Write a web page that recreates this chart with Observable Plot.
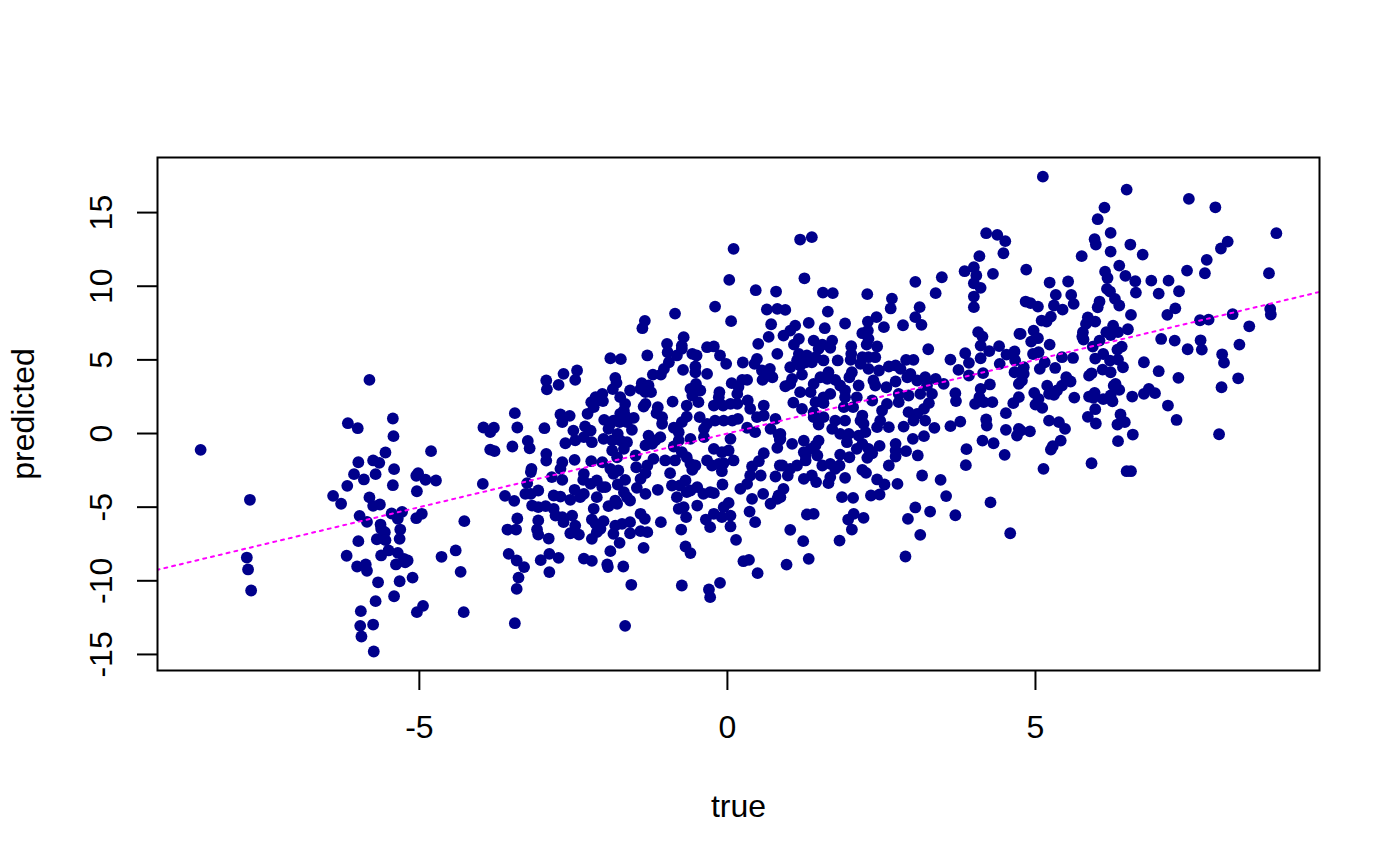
<!DOCTYPE html>
<html>
<head>
<meta charset="utf-8">
<script src="https://cdn.jsdelivr.net/npm/d3@7"></script>
<script src="https://cdn.jsdelivr.net/npm/@observablehq/plot@0.6"></script>
<style>
html,body{margin:0;padding:0;background:#fff}
svg{display:block}
</style>
</head>
<body>
<div id="chart"></div>
<script>
const xTicks = [-5, 0, 5];
const yTicks = [-15, -10, -5, 0, 5, 10, 15];
const xDomain = [-9.25, 9.61];
const yDomain = [-16.09, 18.74];
const identityLine = [[-20, -20], [20, 20]];

const farLeftPoints = [[-8.55,-1.11],[-7.75,-4.5],[-7.8,-8.42],[-7.78,-9.23],[-7.73,-10.66],[-5.81,3.64],[-6.16,.7],[-6,.36],[-5.43,1.02],[-5.42,-.18],[-5.55,-1.29],[-4.81,-1.2],[-5.99,-1.95],[-5.75,-1.83],[-5.65,-1.99],[-5.41,-2.42],[-6.06,-2.76],[-5.9,-3.12],[-5.71,-2.76],[-5.02,-2.69],[-5.05,-2.87],[-4.9,-3.14],[-4.73,-3.19],[-6.17,-3.55],[-5.43,-3.51],[-5.04,-3.92],[-6.4,-4.23],[-6.27,-4.77],[-5.81,-4.34],[-5.75,-4.91],[-5.64,-4.82],[-5.97,-5.59],[-5.85,-6],[-5.45,-5.43],[-5.28,-5.32],[-5.35,-5.79],[-4.96,-5.45],[-5.05,-5.75],[-4.27,-5.95],[-5.63,-6.18],[-5.62,-6.47],[-5.56,-6.7],[-5.31,-6.52],[-5.69,-7.18],[-5.55,-7.24],[-5.32,-7.15],[-5.99,-7.31],[-6.18,-8.3],[-5.62,-8.28],[-5.5,-7.94],[-5.35,-8.1],[-5.25,-8.51],[-5.19,-8.62],[-5.38,-8.89],[-5.23,-8.74],[-6.01,-9.03],[-5.87,-8.89],[-5.85,-9.32],[-4.64,-8.37],[-4.41,-7.94],[-4.33,-9.39],[-5.11,-9.78],[-5.32,-10.03],[-5.67,-10.1],[-5.41,-11.05],[-5.71,-11.38],[-4.94,-11.7],[-5.04,-12.13],[-5.95,-12.06],[-4.28,-12.13],[-5.96,-13.06],[-5.75,-12.97],[-5.94,-13.78],[-5.74,-14.8]];

const leftPoints = [[-3.96,.41],[-3.85,.09],[-3.79,.39],[-3.45,1.38],[-3.41,.41],[-2.97,.36],[-3.85,-1.09],[-3.78,-1.2],[-3.49,-.88],[-3.24,-.5],[-3.21,-1],[-2.94,3.6],[-2.93,3],[-2.94,-1.38],[-2.94,-1.84],[-3.18,-2.4],[-3.19,-2.62],[-3.97,-3.42],[-3.25,-3.37],[-3.61,-4.23],[-3.46,-4.57],[-3.28,-4.1],[-3.19,-4.1],[-3.07,-3.87],[-3.17,-4.89],[-3.07,-5],[-2.95,-4.93],[-3.41,-5.77],[-3.07,-5.9],[-3.57,-6.52],[-3.43,-6.52],[-3.09,-6.52],[-3.07,-6.86],[-2.9,-7.13],[-3.55,-8.17],[-3.42,-8.62],[-3.3,-9.07],[-3.39,-9.78],[-3.42,-10.55],[-3.45,-12.88],[-3.03,-8.6],[-2.89,-8.17],[-2.89,-9.41]];

const middleUpperPoints = [[.1,12.54],[.03,10.43],[.46,9.73],[.79,9.64],[.64,8.42],[.81,8.46],[-.2,8.62],[-.85,8.14],[-1.34,7.65],[-1.38,7.15],[.06,7.63],[.71,7.42],[.67,6.56],[-.71,6.54],[-.98,6.09],[-.74,5.97],[-.97,5.52],[-.82,5.3],[-.74,5.75],[-.33,5.86],[-.22,5.91],[.5,6.09],[-1.3,5.3],[-1.9,5.11],[-1.73,5.05],[-.57,5.41],[-.5,5.3],[-.12,5.3],[-.02,4.73],[.81,5.41],[.25,4.82],[.48,5.07],[.44,4.73],[-.95,4.84],[-1.03,4.39],[-1.21,4],[-1.08,4],[-.72,4.32],[-.52,4.55],[-.52,4.16],[-.33,4.05],[.56,4.28],[.69,4.39],[.57,3.64],[.73,3.82],[.65,4.05],[-2.66,4.05],[-2.44,4.28],[-2.47,3.64],[-2.74,3.3],[-1.82,3.78],[-1.8,3.44],[-1.86,3.01],[.07,3.42],[.24,3.64],[.32,3.64],[.18,3.15],[.16,2.69],[-.51,3.37],[-.44,2.92],[-.6,3.03],[-.57,2.58],[-.13,2.81],[-1.58,2.92],[-1.39,3.42],[-1.28,3.26],[-1.33,2.81],[-1.24,2.81],[-1.41,3.03],[-.89,2.17],[-.47,2.13],[-.66,1.9],[-.22,1.9],[-.14,2.47],[.05,2.01],[.16,2.01],[-.07,1.9],[.33,2.24],[.59,1.9],[.37,1.68],[-1.74,2.47],[-1.66,2.01],[-2.03,2.69],[-2.14,2.47],[-2.21,2.13],[-2.12,2.24],[-2.02,2.2],[-2.17,1.79],[-1.33,2.01],[-1.36,1.83],[-1.13,1.79],[-1.15,1.38],[-1.06,1.11],[-1.06,.66],[-2.27,1.34],[-2.71,1.29],[-2.56,1.2],[-2.68,.77],[-2,.93],[-1.74,1.34],[-1.52,1.06],[-1.75,.77],[-1.9,.66],[-1.63,.77],[-1.68,1.56],[-1.85,.88],[-1.66,1.22],[-.66,1.15],[-.74,.77],[-.87,.39],[-.79,.09],[-.45,1.11],[-.33,.66],[-.38,.32],[-.2,.88],[-.06,.88],[.08,.88],[.17,.99],[.48,1.11],[.59,1.22],[.78,.99],[-2.5,.2],[-2.31,.48],[-2.22,.2],[-1.93,.32],[-1.55,.25],[-1.78,-.02],[.32,.39],[.45,.09],[.7,.32],[.83,-.07]];

const middleLowerPoints = [[.85,-.43],[.81,-.97],[-2.63,-.66],[-2.47,-.47],[-2.33,-.25],[-2.2,-.59],[-2.01,-.36],[-1.87,-.47],[-1.74,-.47],[-1.63,-.59],[-1.28,-.14],[-1.33,-.81],[-1.22,-.7],[-1.09,-.25],[-1.17,-.47],[-.87,-.88],[-.79,-.47],[-.6,-.36],[-.38,-.25],[-.22,-1.04],[-.09,-1.27],[.05,-.36],[.02,-1.15],[.1,-1.83],[-2.48,-1.79],[-2.21,-1.88],[-2.03,-1.95],[-1.87,-1.15],[-1.79,-1.61],[-1.68,-1.04],[-1.49,-1.49],[-1.2,-1.72],[-1.01,-1.83],[-.85,-1.83],[-.74,-1.27],[-.66,-1.61],[-.6,-2.06],[-.52,-2.17],[-.57,-2.47],[-.33,-1.83],[-.25,-2.17],[-.14,-2.06],[-.06,-2.01],[-.09,-2.56],[.59,-1.34],[.51,-1.88],[.4,-2.24],[.85,-2.17],[-2.68,-1.95],[-2.71,-2.4],[-2.85,-2.96],[-2.68,-3.15],[-2.33,-2.74],[-2.34,-3.15],[-2.12,-3.19],[-2.22,-3.42],[-2.03,-3.64],[-1.98,-3.64],[-1.9,-2.4],[-1.77,-2.51],[-1.85,-2.74],[-1.66,-3.15],[-1.78,-3.46],[-1.48,-2.29],[-1.3,-2.17],[-1.33,-2.69],[-1.41,-3.08],[-1.47,-3.69],[-1.33,-4.1],[-1.13,-3.82],[-.93,-2.69],[-.9,-3.53],[-.68,-3.19],[-.77,-3.53],[-.6,-3.87],[-.49,-3.64],[-.82,-4.32],[-.66,-3.98],[-.39,-4.1],[-.28,-3.98],[-.22,-4.05],[-.08,-3.46],[.21,-3.76],[.32,-3.42],[.37,-2.85],[.54,-2.85],[.58,-4.1],[.4,-4.44],[.83,-4.21],[.81,-4.44],[.7,-4.77],[.78,-2.92],[-2.48,-3.82],[-2.33,-4.1],[-2.39,-4.32],[-2.55,-4.5],[-2.82,-4.21],[-2.71,-4.28],[-2.12,-4.32],[-2.17,-5.11],[-1.93,-4.93],[-1.82,-4.55],[-1.79,-4.77],[-1.68,-3.98],[-1.58,-4.55],[-1.63,-4.32],[-.49,-4.89],[.02,-4.71],[-.06,-5],[-.79,-5.11],[-.71,-5],[-.67,-5.68],[-1.41,-5.45],[-1.34,-5.79],[-1.08,-6.02],[.36,-5.3],[-.22,-5.45],[-.09,-5.68],[.05,-5.57],[-.35,-5.84],[-.28,-6.36],[.05,-6.31],[.45,-6.02],[-2.82,-5.11],[-2.79,-5.57],[-2.68,-5.68],[-2.52,-5.57],[-2.66,-6.02],[-2.47,-6.25],[-2.55,-6.77],[-2.41,-6.86],[-2.2,-5.84],[-2.01,-5.95],[-2.14,-6.13],[-2.06,-6.47],[-2.12,-6.7],[-2.2,-7.15],[-1.82,-6.25],[-1.71,-6.13],[-1.58,-6.02],[-1.85,-6.81],[-1.58,-6.77],[-1.41,-6.63],[-1.3,-6.7],[-1.75,-7.42],[-.75,-6.52],[.14,-7.22],[-1.9,-7.99],[-1.36,-7.76],[-2.74,-8.44],[-2.33,-8.49],[-2.2,-8.65],[-1.95,-8.89],[-1.94,-9.07],[-1.69,-9.03],[-.68,-7.67],[-.6,-8.12],[.26,-8.67],[.35,-8.58],[.49,-9.48],[-1.56,-10.27],[-.74,-10.32],[-.12,-10.14],[-.3,-10.59],[-.28,-11.11],[-1.66,-13.06]];

const centerUpperPoints = [[1.18,13.17],[1.37,13.33],[4.2,13.6],[4.38,13.49],[4.51,13.06],[4.48,12.24],[4.09,12.04],[3.85,11.02],[4,11.29],[4.04,10.73],[4,10.2],[4.11,9.89],[4,9.3],[4,8.58],[4.31,10.84],[3.48,10.61],[3.05,10.3],[3.38,9.53],[1.25,10.54],[1.55,9.57],[1.71,9.53],[2.27,9.46],[2.67,9.16],[2.65,8.49],[3.12,8.58],[3.05,7.9],[3.15,7.38],[2.85,7.35],[2.42,7.9],[2.28,7.6],[2.54,7.22],[1.91,7.47],[1.63,8.28],[1.32,7.51],[1.58,7.15],[.94,8.39],[1.1,7.33],[1.02,6.99],[.91,6.65],[1.16,6.43],[1.08,6.04],[1.4,6.31],[1.54,6.04],[1.7,6.31],[1.67,5.82],[1.48,5.75],[2.19,6.81],[2.28,6.99],[2.29,6.43],[2.26,6.04],[2.43,5.91],[2.01,5.93],[2.01,5.41],[2,5],[2.19,5.18],[2.4,5.18],[2.29,5.18],[3.26,5.72],[1.16,5.41],[1.29,5.3],[1.43,5.18],[1.56,4.96],[1.79,4.96],[1.13,4.96],[1.27,4.84],[1.37,4.84],[1.02,4.5],[1.18,4.62],[2.16,4.73],[2.02,4.16],[2.29,4.39],[2.46,4.28],[2.62,4.55],[2.73,4.62],[2.9,5],[3.02,5],[2.81,4.39],[2.97,4.05],[2.92,3.82],[1.64,4.16],[1.51,3.82],[1.21,4],[1.05,3.71],[.94,3.21],[1.02,3.37],[1.4,3.37],[1.62,3.71],[1.75,3.64],[1.83,3.26],[1.98,3.82],[2.13,3.26],[2.37,3.6],[2.4,3.26],[2.58,3.14],[2.73,3.53],[3.08,3.6],[3.21,3.82],[3.38,3.71],[3.51,3.37],[3.24,3.26],[1.18,2.81],[1.35,2.81],[1.67,2.69],[1.56,2.46],[1.43,2.13],[1.56,2.06],[1.91,2.92],[1.91,2.46],[2.1,2.46],[2.35,2.24],[2.59,2.01],[2.78,2.69],[2.78,2.13],[2.94,2.58],[3.13,2.69],[3.32,2.69],[3.27,2.06],[3.19,1.67],[1.07,2.1],[1.21,1.67],[1.4,1.45],[1.89,1.79],[2.04,1.79],[2.19,1.22],[2.51,1.56],[2.94,1.45],[3.08,1.33],[1.4,1.11],[1.56,1.11],[1.75,.88],[1.91,.88],[2.16,.88],[2.48,.88],[3.02,.88],[3.21,.88],[1.48,.61],[1.7,.32],[2.21,.66],[2.24,.09],[2.43,.43],[2.62,.43],[2.86,.47],[3.36,.38],[3.62,.5],[3.78,.81]];

const centerLowerPoints = [[1.83,-.02],[1.97,-.02],[2.13,-.14],[1.94,-.59],[3.19,-.18],[3.01,-.36],[.86,-.02],[.86,-.36],[1.05,-.7],[1.24,-.48],[1.48,-.48],[1.43,-.81],[1.35,-1.04],[1.24,-1.27],[2.19,-.7],[2.29,-1.04],[2.47,-.84],[2.73,-.7],[2.73,-1.15],[2.73,-1.56],[2.9,-1.2],[3.09,-1.49],[2.1,-1.04],[1.83,-1.43],[1.98,-1.61],[2.27,-1.65],[2.35,-1.34],[1.27,-1.49],[1.46,-1.49],[1.27,-1.83],[1.54,-2.17],[1.67,-2.06],[1.82,-2.17],[1.75,-2.4],[1.13,-2.17],[1.02,-2.4],[.89,-2.17],[2.62,-2.17],[2.19,-2.47],[2.25,-2.67],[.98,-2.85],[1.37,-2.85],[1.24,-3.08],[1.44,-3.3],[1.67,-2.96],[1.64,-3.37],[1.91,-3.01],[2.43,-3.12],[2.55,-3.46],[2.76,-3.42],[3.16,-2.85],[3.46,-3.15],[1.86,-4.32],[2.04,-4.37],[2.33,-4.21],[2.47,-4.14],[3.55,-4.25],[3.05,-5.02],[4.27,-4.68],[.91,-3.76],[.86,-4.32],[3.88,-1.06],[3.87,-2.15],[4.5,-1.45],[1.02,-6.54],[1.23,-7.31],[1.82,-7.27],[1.32,-8.51],[.96,-8.9],[2.02,-6.52],[2.21,-5.73],[1.96,-5.84],[2.05,-5.46],[1.29,-5.5],[1.4,-5.46],[2.93,-5.8],[3.29,-5.3],[3.7,-5.55],[3.13,-6.88],[2.89,-8.35],[4.59,-6.77]];

const centerRightPoints = [[3.62,5.02],[3.86,5.45],[3.92,4.8],[3.75,4.32],[3.92,3.94],[4.11,5.11],[4.25,5.59],[4.11,5.97],[4.14,6.58],[4.07,6.88],[4.15,4.1],[4.26,3.33],[4.11,3.03],[3.7,2.74],[3.71,2.2],[4.02,2.01],[4.09,2.47],[4.16,2.13],[4.3,2.13],[4.52,1.38],[4.2,.95],[4.21,.54],[4.52,.25],[4.14,-.48],[4.32,-.66],[4.41,5.93],[4.42,4.73],[4.53,5.36],[4.66,5.57],[4.67,4.96],[4.74,6.77],[4.66,4.16],[4.73,3.37],[4.73,2.47],[4.64,2.06],[4.73,.32],[4.7,-.14]];

const rightPoints = [[5.12,17.44],[6.48,16.56],[6.12,15.34],[6.01,14.55],[7.49,15.93],[7.92,15.36],[8.91,13.6],[6.22,13.62],[5.96,13.19],[5.98,12.83],[6.54,12.83],[8.12,13.03],[8.01,12.56],[6.22,12.35],[6.74,12.15],[5.75,12.04],[7.78,11.79],[6.36,11.4],[4.85,11.13],[6.13,10.99],[6.17,10.56],[6.46,10.7],[6.62,10.34],[6.88,10.38],[7.16,10.38],[7.46,11.06],[7.75,10.88],[8.79,10.88],[5.23,10.25],[5.53,10.32],[6.63,9.57],[7,9.5],[7.33,9.66],[6.16,9.82],[6.21,9.64],[5.33,9.41],[5.58,9.41],[5.62,8.8],[6.29,9.14],[6.36,8.69],[6.04,8.96],[6.01,8.57],[5.3,8.69],[5.44,8.41],[4.84,8.96],[4.92,8.85],[5.04,8.62],[7.27,8.5],[7.14,8.05],[6.55,8.05],[8.2,8.1],[8.81,8.46],[8.82,8.08],[7.67,7.69],[7.81,7.73],[8.47,7.28],[5.25,7.94],[5.18,7.6],[5.1,7.67],[5.85,7.89],[5.82,7.44],[5.97,7.6],[4.97,6.99],[4.76,6.76],[5.77,6.88],[5.76,6.58],[5.78,6.38],[5.04,6.47],[4.93,6.24],[5.23,6.04],[6.26,7.33],[6.15,6.88],[6.22,6.69],[6.34,6.88],[6.5,7.08],[6.04,6.31],[5.93,5.9],[7.04,6.42],[7.26,6.31],[7.68,6.33],[7.47,5.72],[7.7,5.7],[8.31,6.04],[8.03,5.38],[8.06,4.81],[6.4,5.9],[6.33,5.7],[4.96,5.4],[5.05,5.52],[5.43,5.18],[5.61,5.13],[6.1,5.4],[5.97,5.09],[6.21,4.95],[6.34,5.02],[5.15,4.84],[5.07,4.39],[5.32,4.45],[6.42,4.5],[6.76,4.84],[7,4.23],[6.09,4.34],[6.22,4.16],[5.91,4.09],[5.87,3.93],[7.32,3.78],[8.29,3.75],[8.02,3.14],[4.81,4.5],[4.81,4.05],[4.78,3.59],[5.5,3.82],[5.57,3.53],[5.19,3.25],[5.43,3.25],[5.35,2.92],[5.22,2.69],[5.3,2.62],[4.98,2.76],[5.05,2.35],[5,1.96],[5.11,1.74],[5.63,2.44],[5.96,2.76],[5.87,2.51],[5.94,2.42],[6.3,3.37],[6.36,2.96],[6.27,3.25],[6.1,2.33],[6.25,2.19],[6.22,2.58],[6.57,2.51],[6.76,2.69],[6.84,3.03],[6.94,2.74],[7.15,1.9],[7.29,.92],[5.97,1.65],[5.85,1.13],[5.98,.68],[6.38,1.29],[6.45,.77],[6.33,.61],[6.58,-.07],[6.34,-.52],[7.98,-.05],[5.22,.88],[5.38,.77],[5.48,.31],[4.91,.15],[4.76,.2],[5.41,-.48],[5.28,-.86],[5.25,-1.09],[5.13,-2.4],[5.91,-2.02],[6.48,-2.56],[6.55,-2.56]];

const allPoints = [].concat(farLeftPoints, leftPoints, middleUpperPoints, middleLowerPoints, centerUpperPoints, centerLowerPoints, centerRightPoints, rightPoints);

const fontFamily = "Liberation Sans, Helvetica, Arial, sans-serif";
const chart = Plot.plot({
  width: 1400,
  height: 866,
  marginLeft: 157,
  marginRight: 81,
  marginTop: 157,
  marginBottom: 196,
  style: {fontFamily, fontSize: "32px", color: "#000", background: "#fff"},
  x: {domain: xDomain},
  y: {domain: yDomain},
  marks: [
    Plot.dot(allPoints, {x: d => d[0], y: d => d[1], r: 5.9, fill: "#00008B", stroke: "none"}),
    Plot.line(identityLine, {x: d => d[0], y: d => d[1], stroke: "#FF00FF", strokeWidth: 2, strokeDasharray: "3,5", clip: true}),
    Plot.frame({stroke: "#000", strokeWidth: 2}),
    Plot.axisX({ticks: xTicks, tickSize: 20, tickPadding: 25, tickFormat: d => String(d), strokeWidth: 2, stroke: "#000",
      label: "true", labelAnchor: "center", labelArrow: "none", labelOffset: 146, fontSize: 32}),
    Plot.axisY({ticks: yTicks, tickSize: 20, tickPadding: 26, tickRotate: -90, tickFormat: d => String(d), strokeWidth: 2, stroke: "#000",
      label: "predicted", labelAnchor: "center", labelArrow: "none", labelOffset: 146, fontSize: 32})
  ]
});
document.getElementById("chart").appendChild(chart);
</script>
</body>
</html>
